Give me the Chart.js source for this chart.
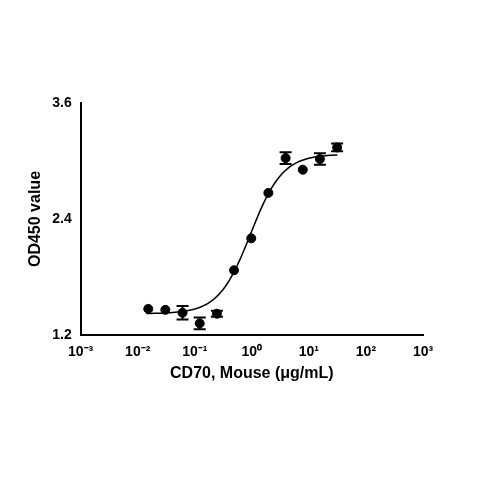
<!DOCTYPE html><html><head><script src="https://cdn.jsdelivr.net/npm/chart.js@4"></script>
<style>body{margin:0;background:#fff}</style></head><body><canvas id="c" width="480" height="480"></canvas>
<script>
const conc=[0.0153,0.0305,0.061,0.122,0.244,0.488,0.977,1.95,3.91,7.81,15.6,31.25];
const od=[1.47,1.46,1.43,1.32,1.42,1.87,2.20,2.67,3.03,2.91,3.02,3.14];
const err=[0,0,0.07,0.06,0.03,0,0,0,0.06,0,0.06,0.04];
const fitBottom=1.42, fitTop=3.07, fitEC50=0.95, fitHill=1.55;
const xTicks=[-3,-2,-1,0,1,2,3];
const xLabels=['10⁻³','10⁻²','10⁻¹','10⁰','10¹','10²','10³'];
const yTicks=[1.2,2.4,3.6];
const curve=[];
for(let i=0;i<=80;i++){const lx=-1.85+i*(1.5+1.85)/80;const x=Math.pow(10,lx);
curve.push({x,y:fitBottom+(fitTop-fitBottom)/(1+Math.pow(fitEC50/x,fitHill))});}
const errPlugin={id:'eb',afterDatasetsDraw(ch){const c=ch.ctx,xs=ch.scales.x,ys=ch.scales.y;c.save();c.strokeStyle='#000';c.lineWidth=2;
conc.forEach((x,i)=>{if(!err[i])return;const px=xs.getPixelForValue(x),a=ys.getPixelForValue(od[i]+err[i]),b=ys.getPixelForValue(od[i]-err[i]);
c.beginPath();c.moveTo(px,a);c.lineTo(px,b);c.moveTo(px-6,a);c.lineTo(px+6,a);c.moveTo(px-6,b);c.lineTo(px+6,b);c.stroke();});c.restore();}};
const F='Liberation Sans, Arial, sans-serif';
new Chart(document.getElementById('c'),{type:'scatter',
data:{datasets:[
{data:conc.map((x,i)=>({x,y:od[i]})),backgroundColor:'#000',borderColor:'#000',pointRadius:4.5},
{type:'line',data:curve,borderColor:'#000',borderWidth:1.5,pointRadius:0,fill:false,tension:0}]},
options:{responsive:false,animation:false,plugins:{legend:{display:false},tooltip:{enabled:false}},
layout:{padding:{left:22,right:57,top:103,bottom:93}},
scales:{x:{type:'logarithmic',min:0.001,max:1000,afterBuildTicks:a=>{a.ticks=xTicks.map(v=>({value:Math.pow(10,v)}));},
ticks:{color:'#000',font:{family:F,size:14,weight:'bold'},callback:(v)=>xLabels[xTicks.indexOf(Math.round(Math.log10(v)))],maxRotation:0,autoSkip:false},
grid:{display:false,drawTicks:true,tickLength:6,tickColor:'#000'},border:{color:'#000',width:2},
title:{display:true,text:'CD70, Mouse (μg/mL)',color:'#000',font:{family:F,size:16,weight:'bold'},padding:{top:0}}},
y:{min:1.2,max:3.6,afterBuildTicks:a=>{a.ticks=yTicks.map(v=>({value:v}));},
ticks:{color:'#000',font:{family:F,size:14,weight:'bold'},callback:v=>v.toFixed(1)},
grid:{display:false,tickLength:6,tickColor:'#000'},border:{color:'#000',width:2},
title:{display:true,text:'OD450 value',color:'#000',font:{family:F,size:16,weight:'bold'}}}}},
plugins:[errPlugin]});
</script></body></html>
